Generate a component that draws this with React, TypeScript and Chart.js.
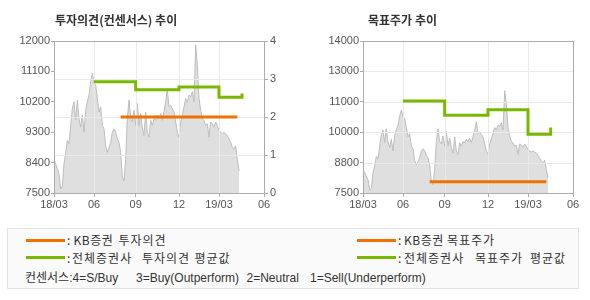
import React, { useEffect, useRef } from 'react';
import { Chart, registerables } from 'chart.js';

Chart.register(...registerables);

// x axis: sample index (each sample ≈ one price reading)
const xTickValues = [0, 24, 49, 75, 99, 126];
const xTickLabels = ['18/03', '06', '09', '12', '19/03', '06'];

const priceValues = [
  8470, 8370, 8220, 8070, 7620, 7700, 8370, 8670, 9060, 8960,
  9500, 10000, 10200, 9660, 10250, 9700, 9450, 9800, 9300, 9950,
  10200, 10400, 10800, 11050, 10750, 10700, 10300, 9900, 10050, 9500,
  9400, 8900, 8700, 8850, 9000, 9300, 9400, 9300, 9100, 9000,
  8700, 8000, 7850, 8500, 9700, 10250, 9700, 9600, 9950, 9500,
  10150, 9500, 9850, 9450, 9200, 9900, 9300, 9150, 9650, 9500,
  9700, 9650, 9800, 9700, 9850, 9650, 9900, 10200, 10550, 10050,
  10100, 10000, 9900, 9600, 9300, 9150, 9600, 9800, 10050, 10300,
  10200, 10400, 10350, 10500, 10200, 11880, 11300, 10300, 9950, 9700,
  9650, 9500, 9550, 9150, 9600, 9550, 9450, 9600, 9500, 9350,
  9300, 9250, 9300, 9250, 9200, 9100, 9000, 8850, 8800, 8900,
  8500, 8150,
];

const consensusX = [24, 49, 75, 99, 112.8];
const consensusAvg = [2.93, 2.72, 2.79, 2.52, 2.62];
const kbOpinionX = [40, 110];
const kbOpinion = [2, 2];

const targetAvgX = [24, 49, 75, 99, 112.6];
const targetAvg = [11430, 10830, 11060, 10010, 10300];
const kbTargetX = [40, 110];
const kbTarget = [7980, 7980];

const opinionPriceTicks = [7500, 8400, 9300, 10200, 11100, 12000];
const opinionScoreTicks = [0, 1, 2, 3, 4];
const targetTicks = [7500, 8800, 10100, 11400, 12700, 14000];
const targetTickLabels = ['7500', '8800', '10000', '11000', '13000', '14000'];

const ORANGE = '#f07000';
const GREEN = '#7ab800';
const AXIS = '#ababab';
const GRID = '#e9e9e9';
const LABEL = '#555555';
const TICK_FONT = { family: '"Liberation Sans", Arial, sans-serif', size: 11 };

const pts = (xs: number[], ys: number[]) => xs.map((x, i) => ({ x, y: ys[i] }));

const gridUnder = {
  id: 'gridUnder',
  afterDatasetDraw(chart: any, args: any, opts: any) {
    if (args.index !== opts.after) return;
    const { ctx, chartArea: a } = chart;
    ctx.save();
    ctx.strokeStyle = GRID;
    ctx.lineWidth = 1;
    const xs = chart.scales.x;
    xs.ticks.forEach((t: any) => {
      const px = Math.round(xs.getPixelForValue(t.value)) + 0.5;
      ctx.beginPath();
      ctx.moveTo(px, a.top);
      ctx.lineTo(px, a.bottom);
      ctx.stroke();
    });
    const hs = chart.scales[opts.hScale];
    hs.ticks.forEach((t: any) => {
      const py = Math.round(hs.getPixelForValue(t.value)) + 0.5;
      ctx.beginPath();
      ctx.moveTo(a.left, py);
      ctx.lineTo(a.right, py);
      ctx.stroke();
    });
    ctx.restore();
  },
  afterDraw(chart: any) {
    const { ctx, chartArea: a } = chart;
    ctx.save();
    ctx.strokeStyle = AXIS;
    ctx.lineWidth = 1;
    const l = Math.round(a.left) + 0.5;
    const t = Math.round(a.top) + 0.5;
    const r = Math.round(a.right) + 0.5;
    const b = Math.round(a.bottom) + 0.5;
    ctx.strokeRect(l, t, r - l, b - t);
    ctx.restore();
  },
};

const xScale = () => ({
  type: 'linear' as const,
  min: 0,
  max: 126,
  afterBuildTicks: (s: any) => {
    s.ticks = xTickValues.map((v) => ({ value: v }));
  },
  afterFit: (s: any) => {
    s.height = 27;
  },
  ticks: {
    autoSkip: false,
    maxRotation: 0,
    padding: 1,
    color: LABEL,
    font: TICK_FONT,
    callback: (v: any) => {
      const i = xTickValues.indexOf(Number(v));
      return i >= 0 ? xTickLabels[i] : '';
    },
  },
  grid: { drawOnChartArea: false, tickColor: AXIS, tickLength: 4 },
  border: { color: AXIS },
});

const lineDs = (data: any[], color: string, axis: string, stepped: boolean) => ({
  data,
  yAxisID: axis,
  borderColor: color,
  borderWidth: 3,
  pointRadius: 0,
  fill: false,
  stepped: stepped ? 'before' : false,
  borderCapStyle: 'butt',
});

const priceDs = (axis: string) => ({
  data: priceValues.map((v, i) => ({ x: i, y: v })),
  yAxisID: axis,
  borderColor: '#bdbdbd',
  borderWidth: 1,
  backgroundColor: '#dfdfdf',
  fill: 'start',
  pointRadius: 0,
  tension: 0,
});

function OpinionChart() {
  const ref = useRef<HTMLCanvasElement>(null);
  useEffect(() => {
    const chart = new Chart(ref.current as HTMLCanvasElement, {
      type: 'line',
      data: {
        datasets: [
          lineDs(pts(kbOpinionX, kbOpinion), ORANGE, 'y1', false),
          lineDs(pts(consensusX, consensusAvg), GREEN, 'y1', true),
          priceDs('y'),
        ] as any,
      },
      options: {
        animation: false,
        responsive: false,
        maintainAspectRatio: false,
        layout: { padding: { top: 41, left: 0, right: 0, bottom: 0 } },
        plugins: {
          legend: { display: false },
          tooltip: { enabled: false },
          gridUnder: { after: 2, hScale: 'y1' },
        } as any,
        scales: {
          x: xScale(),
          y: {
            type: 'linear',
            position: 'left',
            min: 7500,
            max: 12000,
            afterBuildTicks: (s: any) => {
              s.ticks = opinionPriceTicks.map((v) => ({ value: v }));
            },
            afterFit: (s: any) => {
              s.width = 54;
            },
            ticks: { padding: 1, color: LABEL, font: TICK_FONT, callback: (v: any) => String(v) },
            grid: { drawOnChartArea: false, tickColor: AXIS, tickLength: 3 },
            border: { color: AXIS },
          },
          y1: {
            type: 'linear',
            position: 'right',
            min: 0,
            max: 4,
            afterBuildTicks: (s: any) => {
              s.ticks = opinionScoreTicks.map((v) => ({ value: v }));
            },
            afterFit: (s: any) => {
              s.width = 31;
            },
            ticks: { padding: 2, color: LABEL, font: TICK_FONT, callback: (v: any) => String(v) },
            grid: { drawOnChartArea: false, tickColor: AXIS, tickLength: 4 },
            border: { color: AXIS },
          },
        } as any,
      },
      plugins: [gridUnder],
    });
    return () => chart.destroy();
  }, []);
  return (
    <canvas
      ref={ref}
      width={295}
      height={220}
      style={{ position: 'absolute', left: 0, top: 0, width: 295, height: 220 }}
    />
  );
}

function TargetChart() {
  const ref = useRef<HTMLCanvasElement>(null);
  useEffect(() => {
    const chart = new Chart(ref.current as HTMLCanvasElement, {
      type: 'line',
      data: {
        datasets: [
          lineDs(pts(kbTargetX, kbTarget), ORANGE, 'y', false),
          lineDs(pts(targetAvgX, targetAvg), GREEN, 'y', true),
          priceDs('y'),
        ] as any,
      },
      options: {
        animation: false,
        responsive: false,
        maintainAspectRatio: false,
        layout: { padding: { top: 41, left: 0, right: 17, bottom: 0 } },
        plugins: {
          legend: { display: false },
          tooltip: { enabled: false },
          gridUnder: { after: 2, hScale: 'y' },
        } as any,
        scales: {
          x: xScale(),
          y: {
            type: 'linear',
            position: 'left',
            min: 7500,
            max: 14000,
            afterBuildTicks: (s: any) => {
              s.ticks = targetTicks.map((v) => ({ value: v }));
            },
            afterFit: (s: any) => {
              s.width = 68;
            },
            ticks: {
              padding: 1,
              color: LABEL,
              font: TICK_FONT,
              callback: (v: any) => {
                const i = targetTicks.indexOf(Number(v));
                return i >= 0 ? targetTickLabels[i] : '';
              },
            },
            grid: { drawOnChartArea: false, tickColor: AXIS, tickLength: 3 },
            border: { color: AXIS },
          },
        } as any,
      },
      plugins: [gridUnder],
    });
    return () => chart.destroy();
  }, []);
  return (
    <canvas
      ref={ref}
      width={295}
      height={220}
      style={{ position: 'absolute', left: 295, top: 0, width: 295, height: 220 }}
    />
  );
}

const KR = '"Noto Sans CJK KR", sans-serif';
const MIX = '"Liberation Sans", "Noto Sans CJK KR", sans-serif';

const Txt = ({ x, y, children, size = 12, spacing = 1, family = KR }: any) => (
  <div
    style={{
      position: 'absolute',
      left: x,
      top: y - 8,
      height: 16,
      lineHeight: '16px',
      fontFamily: family,
      fontSize: size,
      letterSpacing: spacing,
      color: '#333',
      whiteSpace: 'pre',
    }}
  >
    {children}
  </div>
);

const Swatch = ({ x, y, color }: any) => (
  <div style={{ position: 'absolute', left: x, top: y - 1.5, width: 39, height: 3, background: color }} />
);

const titleStyle: any = {
  position: 'absolute',
  top: 12,
  lineHeight: '16px',
  fontFamily: KR,
  fontWeight: 700,
  fontSize: 12,
  letterSpacing: 0,
  color: '#333',
  whiteSpace: 'pre',
};

export default function App() {
  return (
    <div style={{ position: 'absolute', left: 0, top: 0, width: 590, height: 300, background: '#fff', overflow: 'hidden' }}>
      <OpinionChart />
      <TargetChart />
      <div style={{ ...titleStyle, left: 55 }}>투자의견(컨센서스) 추이</div>
      <div style={{ ...titleStyle, left: 368 }}>목표주가 추이</div>
      <div
        style={{
          position: 'absolute',
          left: 7,
          top: 228,
          width: 572,
          height: 61,
          boxSizing: 'border-box',
          border: '1px solid #e2e2e2',
          background: '#fafafa',
        }}
      />
      <Swatch x={26} y={240.5} color={ORANGE} />
      <Swatch x={26} y={257.5} color={GREEN} />
      <Swatch x={357} y={240.5} color={ORANGE} />
      <Swatch x={357} y={257.5} color={GREEN} />

      <Txt x={67} y={240} spacing={0}>:</Txt>
      <Txt x={73.5} y={240} spacing={0.5}>KB증권</Txt>
      <Txt x={118.5} y={240}>투자의견</Txt>
      <Txt x={67} y={257.5} spacing={0}>:</Txt>
      <Txt x={72} y={257.5}>전체증권사</Txt>
      <Txt x={142} y={257.5}>투자의견</Txt>
      <Txt x={194.5} y={257.5}>평균값</Txt>

      <Txt x={398} y={240} spacing={0}>:</Txt>
      <Txt x={404} y={240} spacing={0.5}>KB증권</Txt>
      <Txt x={447} y={240}>목표주가</Txt>
      <Txt x={398} y={257.5} spacing={0}>:</Txt>
      <Txt x={404} y={257.5}>전체증권사</Txt>
      <Txt x={475} y={257.5}>목표주가</Txt>
      <Txt x={530} y={257.5}>평균값</Txt>

      <Txt x={25} y={278} spacing={0} family={MIX}>컨센서스:4=S/Buy</Txt>
      <Txt x={136} y={278} spacing={0} family={MIX}>3=Buy(Outperform)</Txt>
      <Txt x={246.5} y={278} spacing={0} family={MIX}>2=Neutral</Txt>
      <Txt x={310} y={278} spacing={0} family={MIX}>1=Sell(Underperform)</Txt>
    </div>
  );
}
